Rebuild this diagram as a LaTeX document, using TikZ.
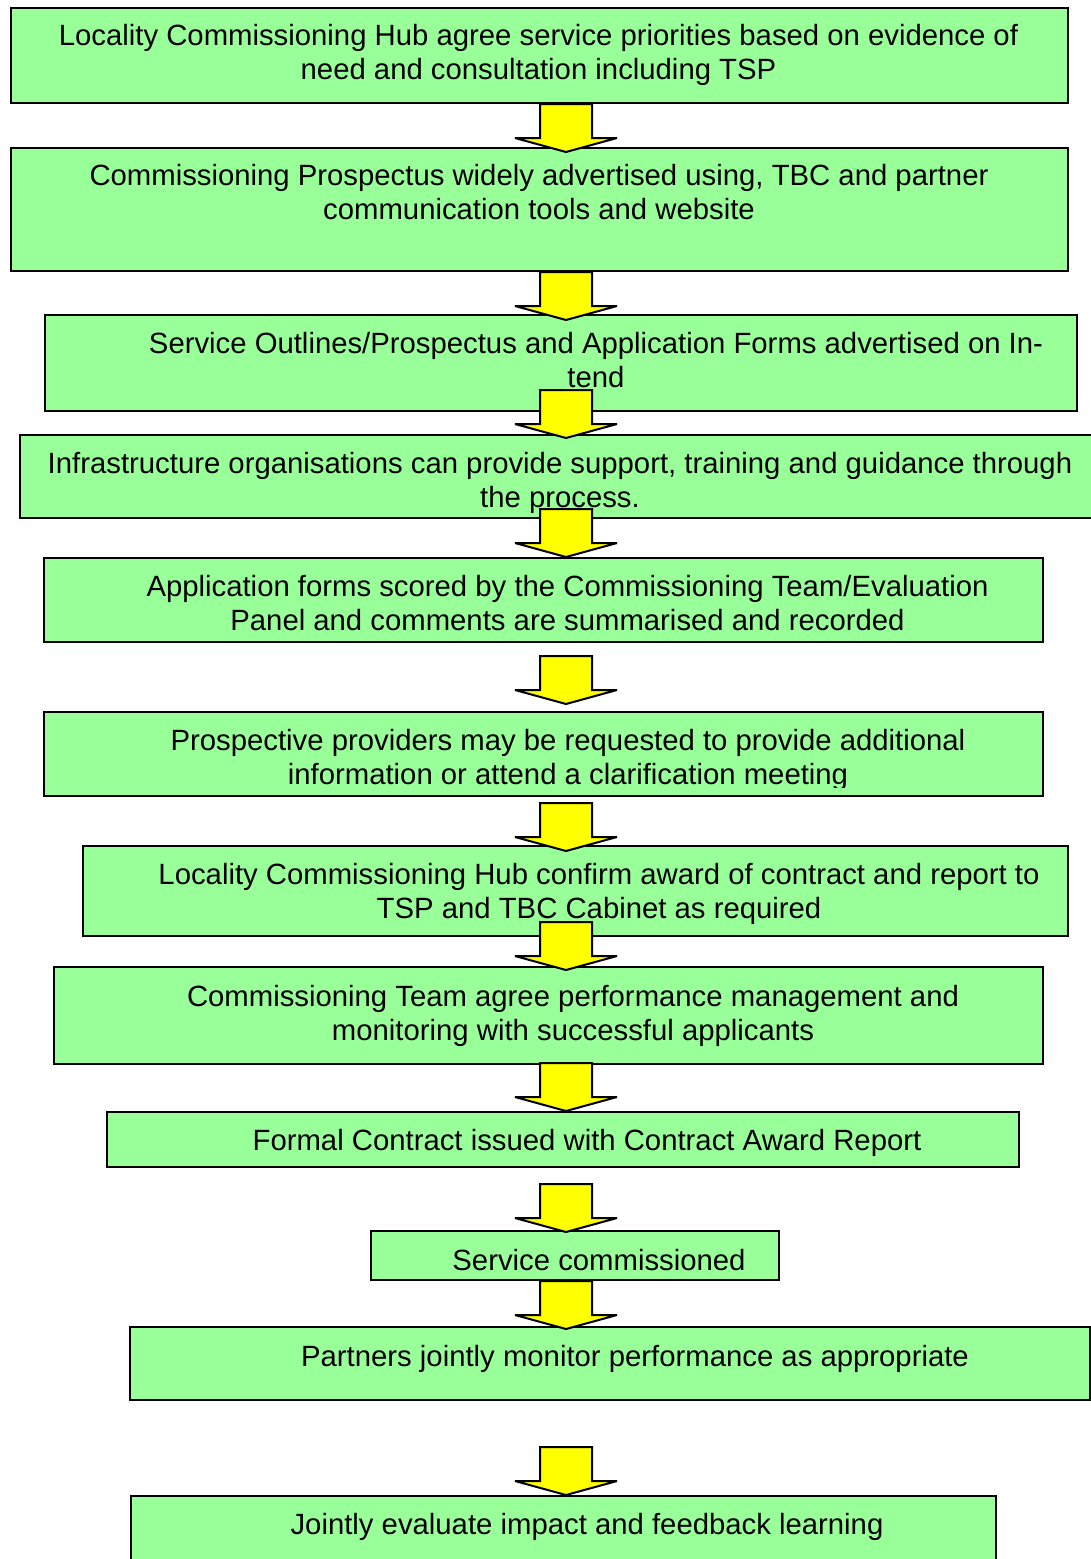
\documentclass[tikz,border=0pt]{standalone}
\usepackage{fontspec}
\setmainfont{Liberation Sans}
\usetikzlibrary{fit}
\definecolor{boxgreen}{HTML}{99FF99}
\definecolor{arrowyellow}{HTML}{FFFF00}
\newcommand\topstrut{\rule{0pt}{15pt}}
\newcommand\blockarrowdown[1]{%
  \draw[arrowshape] (#1) ++(-26,0) -- ++(52,0) -- ++(0,34) -- ++(25,0) -- ++(-51,14) -- ++(-51,-14) -- ++(25,0) -- cycle;}
\begin{document}
\begin{tikzpicture}[x=0.5pt,y=-0.5pt,
  box/.style={draw=black, line width=1pt, fill=boxgreen, inner sep=0pt, rectangle},
  txt/.style={anchor=north, align=center, inner sep=0pt, font=\fontsize{14.65pt}{17pt}\selectfont},
  arrowshape/.style={draw=black, line width=1pt, fill=arrowyellow, line join=miter, miter limit=2}]
\useasboundingbox[fill=white] (0,0) rectangle (1091,1559);
% boxes
\node[box, fit={(11,8) (1068,103)}] (b1) {};
\node[box, fit={(11,148) (1068,271)}] (b2) {};
\node[box, fit={(45,315) (1077,411)}] (b3) {};
\node[box, fit={(20,435) (1100,518)}] (b4) {};
\node[box, fit={(44,558) (1043,642)}] (b5) {};
\node[box, fit={(44,712) (1043,796)}] (b6) {};
\node[box, fit={(83,846) (1068,936)}] (b7) {};
\node[box, fit={(54,967) (1043,1064)}] (b8) {};
\node[box, fit={(107,1112) (1019,1167)}] (b9) {};
\node[box, fit={(371,1231) (779,1280)}] (b10) {};
\node[box, fit={(130,1327) (1090,1400)}] (b11) {};
\node[box, fit={(131,1496) (996,1575)}] (b12) {};
% texts
\node[txt] (t1) at (538.5,15) {\topstrut Locality Commissioning Hub agree service priorities based on evidence of\\need and consultation including TSP};
\node[txt] (t2) at (539,155) {\topstrut Commissioning Prospectus widely advertised using, TBC and partner\\communication tools and website};
\node[txt] (t3) at (596,323) {\topstrut Service Outlines/Prospectus and Application Forms advertised on In-\\tend};
\node[txt] (t4) at (560,443) {\topstrut Infrastructure organisations can provide support, training and guidance through\\the process.};
\node[txt] (t5) at (567.5,566) {\topstrut Application forms scored by the Commissioning Team/Evaluation\\Panel and comments are summarised and recorded};
\begin{scope}
\clip (44,712) rectangle (1043,787);
\node[txt] (t6) at (568,720) {\topstrut Prospective providers may be requested to provide additional\\information or attend a clarification meeting};
\end{scope}
\node[txt] (t7) at (599,854) {\topstrut Locality Commissioning Hub confirm award of contract and report to\\TSP and TBC Cabinet as required};
\node[txt] (t8) at (573,976) {\topstrut Commissioning Team agree performance management and\\monitoring with successful applicants};
\node[txt] (t9) at (587,1120) {\topstrut Formal Contract issued with Contract Award Report};
\node[txt] (t10) at (599,1240) {\topstrut Service commissioned};
\node[txt] (t11) at (635,1336) {\topstrut Partners jointly monitor performance as appropriate};
\node[txt] (t12) at (587,1504) {\topstrut Jointly evaluate impact and feedback learning};
% arrows
\coordinate (a1) at (566,104);
\coordinate (a2) at (566,272);
\coordinate (a3) at (566,390);
\coordinate (a4) at (566,509);
\coordinate (a5) at (566,656);
\coordinate (a6) at (566,803);
\coordinate (a7) at (566,922);
\coordinate (a8) at (566,1063);
\coordinate (a9) at (566,1184);
\coordinate (a10) at (566,1281);
\coordinate (a11) at (566,1447);
\foreach \a in {a1,a2,a3,a4,a5,a6,a7,a8,a9,a10,a11}{\blockarrowdown{\a}}
\end{tikzpicture}
\end{document}
